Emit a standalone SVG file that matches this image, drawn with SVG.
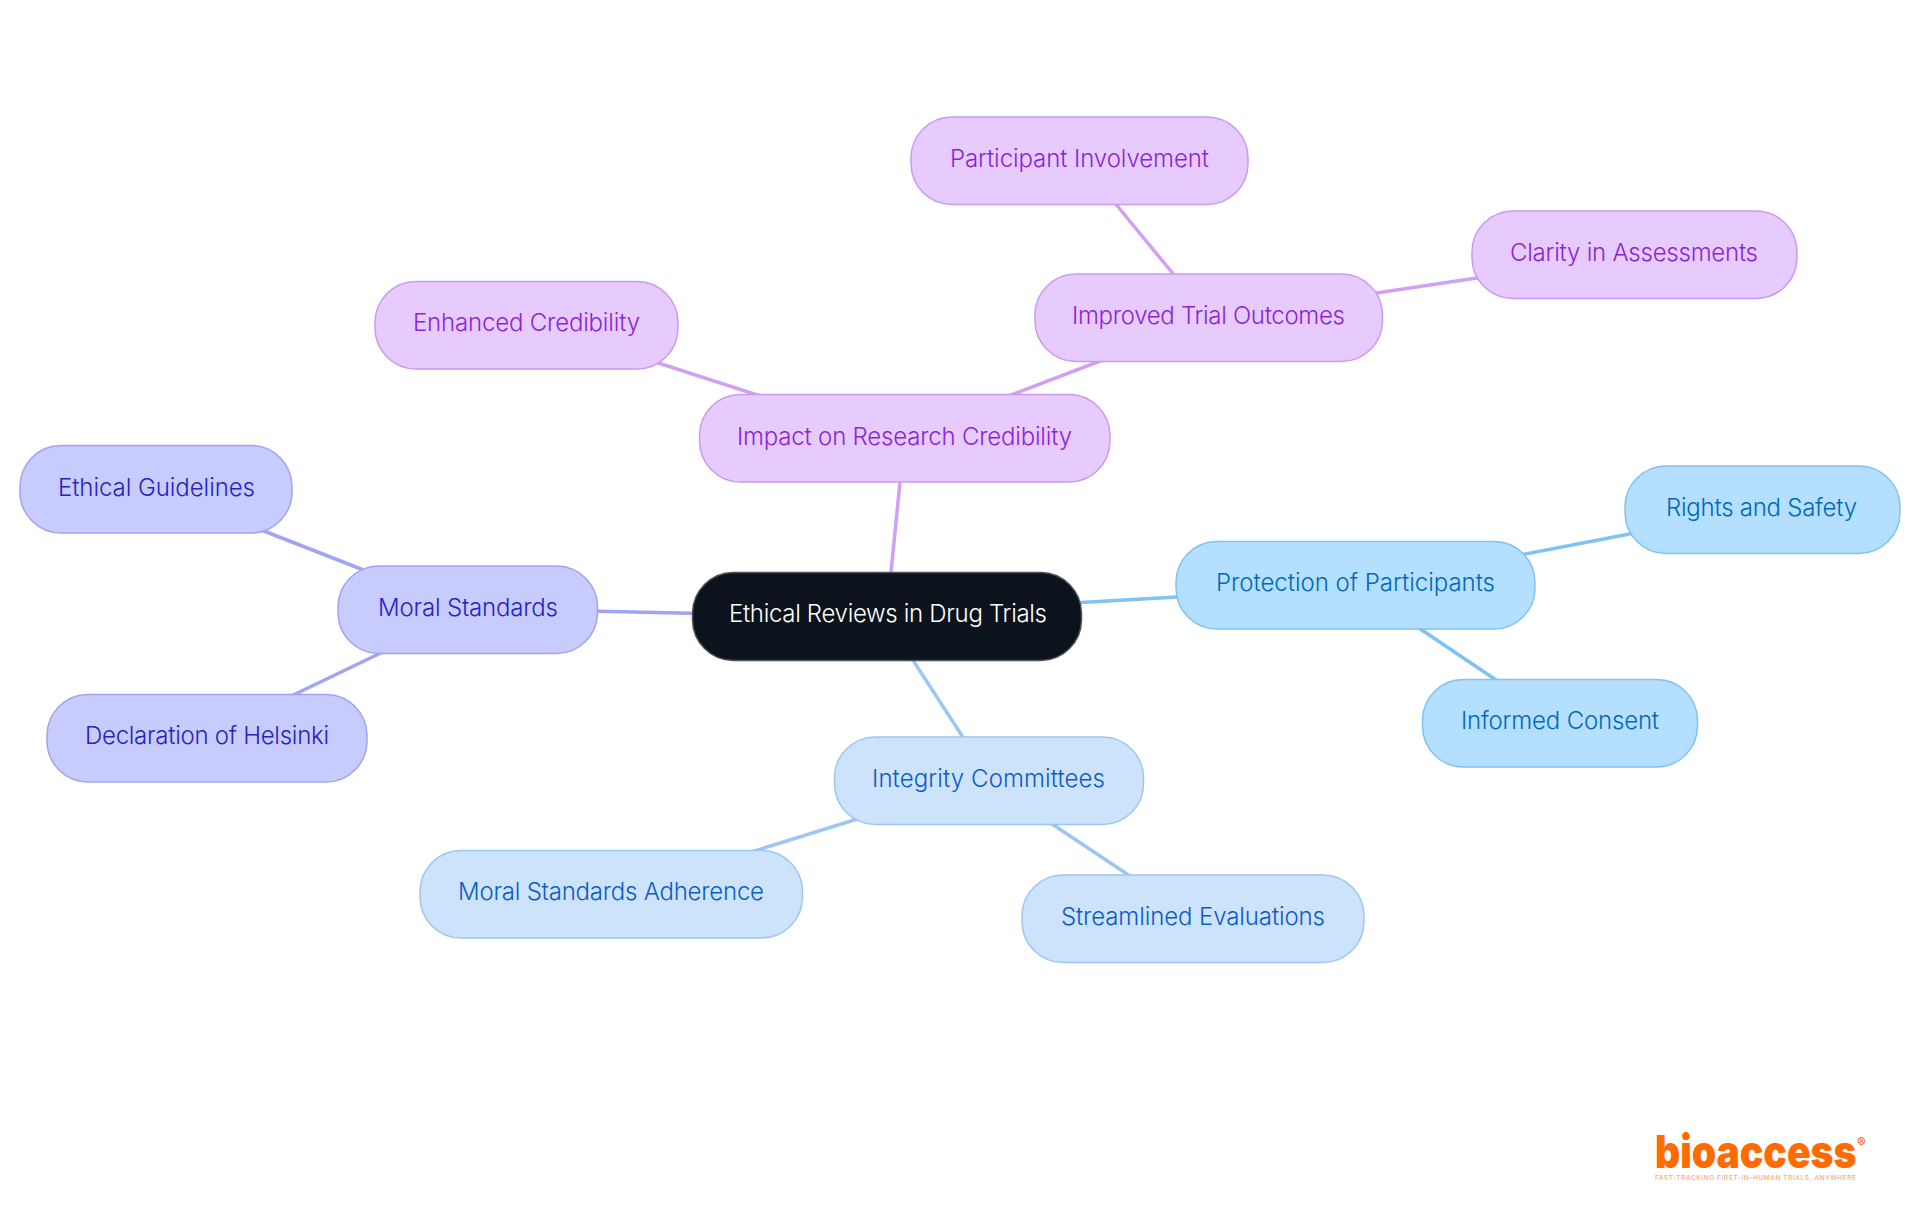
<svg xmlns="http://www.w3.org/2000/svg" width="1920" height="1215" viewBox="0 0 1920 1215">
<style>
text{font-family:"Inter","Noto Sans",sans-serif;font-size:24px;font-weight:300}
.n{stroke-width:1.5}
.root rect{fill:#0c131c;stroke:#4d5259}.root text{fill:#fff}
.pu rect{fill:#e7cafe;stroke:#c99af0}.pu text{fill:#8a25d6}
.in rect{fill:#c8cbfd;stroke:#a0a4f0}.in text{fill:#2424c4}
.sk rect{fill:#b4dffe;stroke:#7fc2f3}.sk text{fill:#0068bd}
.bl rect{fill:#cde3fc;stroke:#9cc6f4}.bl text{fill:#0b5bca}
#connectors line{stroke-width:3.5;fill:none}
.lp{stroke:#cfa0f5}.li{stroke:#a0a4f5}.ls{stroke:#7fc2f3}.lb{stroke:#9cc6f4}
.logo{fill:#ff6b00}
</style>
<rect width="1920" height="1215" fill="#fff"/>
<g id="connectors">
<line class="lp" x1="901" y1="472" x2="890" y2="582"/>
<line class="li" x1="587" y1="611" x2="702" y2="613.5"/>
<line class="ls" x1="1072" y1="603" x2="1186" y2="596.5"/>
<line class="lb" x1="907" y1="651" x2="968" y2="745"/>
<line class="lb" x1="867" y1="816" x2="745" y2="854"/>
<line class="lb" x1="1043" y1="818" x2="1139" y2="882"/>
<line class="ls" x1="1515" y1="556" x2="1640" y2="532"/>
<line class="ls" x1="1410" y1="622" x2="1505" y2="686"/>
<line class="lp" x1="770" y1="399" x2="646" y2="359"/>
<line class="lp" x1="1108" y1="358" x2="1003" y2="398"/>
<line class="lp" x1="1110" y1="197" x2="1179" y2="281"/>
<line class="lp" x1="1366" y1="294.5" x2="1487" y2="276.5"/>
<line class="li" x1="255" y1="527.5" x2="375" y2="574.5"/>
<line class="li" x1="389" y1="649" x2="285" y2="699"/>
</g>
<g id="root" class="root"><rect class="n" x="692.5" y="572.5" width="389" height="88" rx="41"/><text x="729" y="622" textLength="318">Ethical Reviews in Drug Trials</text></g>
<g id="impact" class="pu"><rect class="n" x="699.5" y="394.5" width="410.5" height="87.5" rx="41"/><text x="737" y="445" textLength="335">Impact on Research Credibility</text></g>
<g id="enhanced" class="pu"><rect class="n" x="375" y="281.5" width="303" height="87.5" rx="41"/><text x="413" y="331" textLength="227">Enhanced Credibility</text></g>
<g id="improved" class="pu"><rect class="n" x="1035" y="274" width="347.5" height="87.5" rx="41"/><text x="1072" y="324" textLength="273">Improved Trial Outcomes</text></g>
<g id="participant" class="pu"><rect class="n" x="911" y="117" width="337" height="87.5" rx="41"/><text x="950" y="167" textLength="259">Participant Involvement</text></g>
<g id="clarity" class="pu"><rect class="n" x="1472" y="211" width="325" height="87.5" rx="41"/><text x="1510" y="261" textLength="248">Clarity in Assessments</text></g>
<g id="moral" class="in"><rect class="n" x="338" y="566" width="259.5" height="87.5" rx="41"/><text x="378" y="616" textLength="180">Moral Standards</text></g>
<g id="ethical" class="in"><rect class="n" x="20" y="445.5" width="272" height="87.5" rx="41"/><text x="58" y="496" textLength="197">Ethical Guidelines</text></g>
<g id="declaration" class="in"><rect class="n" x="47" y="694.5" width="320" height="87.5" rx="41"/><text x="85" y="744" textLength="244">Declaration of Helsinki</text></g>
<g id="protection" class="sk"><rect class="n" x="1176" y="541.5" width="359" height="87.5" rx="41"/><text x="1216" y="591" textLength="279">Protection of Participants</text></g>
<g id="rights" class="sk"><rect class="n" x="1625" y="466" width="275" height="87.5" rx="41"/><text x="1666" y="516" textLength="191">Rights and Safety</text></g>
<g id="informed" class="sk"><rect class="n" x="1422.5" y="679.5" width="275" height="87.5" rx="41"/><text x="1461" y="729" textLength="198">Informed Consent</text></g>
<g id="integrity" class="bl"><rect class="n" x="834.5" y="737" width="309" height="87.5" rx="41"/><text x="872" y="787" textLength="233">Integrity Committees</text></g>
<g id="adherence" class="bl"><rect class="n" x="420" y="850.5" width="382.5" height="87.5" rx="41"/><text x="458" y="900" textLength="306">Moral Standards Adherence</text></g>
<g id="streamlined" class="bl"><rect class="n" x="1022" y="875" width="342" height="87.5" rx="41"/><text x="1061" y="925" textLength="264">Streamlined Evaluations</text></g>
<g id="logo">
<text class="logo" x="1655" y="1168" textLength="201.5" lengthAdjust="spacingAndGlyphs" style="font-size:46px;font-weight:900">bioaccess</text>
<text class="logo" x="1857" y="1147" style="font-size:13px;font-weight:600">®</text>
<text class="logo" x="1655" y="1180" textLength="201" opacity="0.6" style="font-size:6.5px;font-weight:500">FAST-TRACKING FIRST-IN-HUMAN TRIALS, ANYWHERE</text>
</g>
</svg>
